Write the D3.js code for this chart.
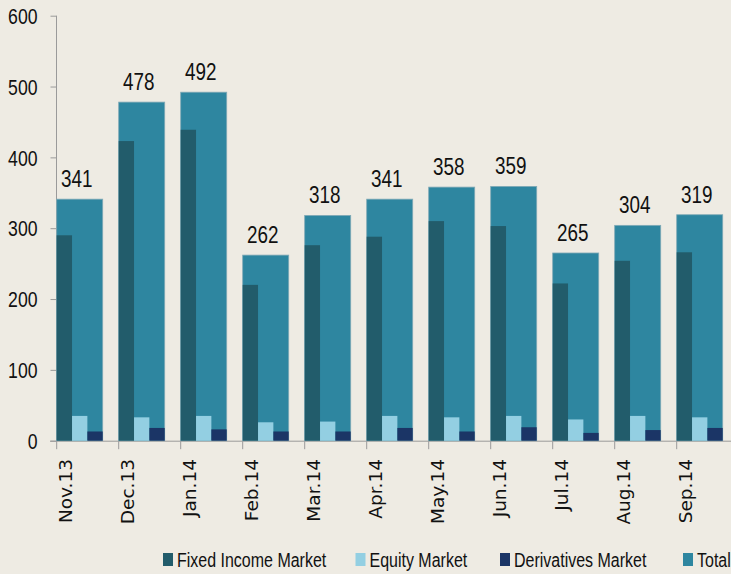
<!DOCTYPE html>
<html>
<head>
<meta charset="utf-8">
<script src="https://cdn.jsdelivr.net/npm/d3@7"></script>
<style>
  html, body { margin: 0; padding: 0; background: #EEEBE3; }
  svg { display: block; }
</style>
</head>
<body>
<svg id="chart" width="731" height="574"></svg>
<script>
const categories = ["Nov.13","Dec.13","Jan.14","Feb.14","Mar.14","Apr.14","May.14","Jun.14","Jul.14","Aug.14","Sep.14"];
const fixedIncome = [290, 423, 439, 220, 276, 288, 310, 303, 222, 254, 266];
const equity      = [35, 33, 35, 26, 27, 35, 33, 35, 30, 35, 33];
const derivatives = [13, 18, 16, 13, 13, 18, 13, 19, 11, 15, 18];
const total       = [341, 478, 492, 262, 318, 341, 358, 359, 265, 304, 319];
const yTicks = [0, 100, 200, 300, 400, 500, 600];
const seriesNames = ["Fixed Income Market", "Equity Market", "Derivatives Market", "Total"];
const colors = { fixed: "#225C6B", equity: "#93CFE2", deriv: "#1B3566", total: "#2E86A0" };

const svg = d3.select("#chart");
const x = d3.scaleBand().domain(categories).range([56.7, 738.7]).paddingInner(0).paddingOuter(0);
const y = d3.scaleLinear().domain([0, 600]).range([440.7, 15.7]);
const barW = x.bandwidth() * 0.742;
const subW = barW / 3;

const numFont = "'Liberation Sans', Arial, sans-serif";
const squeeze = 0.82;

// Y axis
const yAxis = svg.append("g").attr("transform", "translate(56.5,0)")
  .call(d3.axisLeft(y).tickValues(yTicks).tickSize(6));
yAxis.select(".domain").attr("stroke", "#9a9a9a").attr("d", `M0,${y(600)}V${y(0)}`);
yAxis.selectAll(".tick line").attr("stroke", "#9a9a9a");
yAxis.selectAll(".tick text")
  .attr("x", null).attr("dy", "0.36em")
  .attr("transform", `translate(-19,0) scale(${squeeze},1)`)
  .attr("font-family", numFont).attr("font-size", 21.5).attr("fill", "#111");

// X axis
const xAxis = svg.append("g").attr("transform", `translate(0,${y(0) + 0.5})`);
xAxis.append("line").attr("x1", 50).attr("x2", 731).attr("stroke", "#9a9a9a");
xAxis.selectAll(".xt").data(categories.concat(["_end"])).join("line")
  .attr("x1", (d, i) => x.range()[0] + i * x.step()).attr("x2", (d, i) => x.range()[0] + i * x.step())
  .attr("y1", 0).attr("y2", 8).attr("stroke", "#9a9a9a");

const rows = categories.map((c, i) => ({ c, f: fixedIncome[i], e: equity[i], d: derivatives[i], t: total[i] }));

// Total bars
svg.append("g").selectAll("rect").data(rows).join("rect")
  .attr("x", d => x(d.c)).attr("width", barW)
  .attr("y", d => y(d.t)).attr("height", d => y(0) - y(d.t))
  .attr("fill", colors.total).attr("stroke", "#7fa9b6").attr("stroke-width", 0.8);

// Sub bars
const subs = [["f", colors.fixed], ["e", colors.equity], ["d", colors.deriv]];
subs.forEach(([k, col], j) => {
  svg.append("g").selectAll("rect").data(rows).join("rect")
    .attr("x", d => x(d.c) + j * subW).attr("width", subW)
    .attr("y", d => y(d[k])).attr("height", d => y(0) - y(d[k]))
    .attr("fill", col);
});

// Value labels
svg.append("g").selectAll("text").data(rows).join("text")
  .attr("transform", d => `translate(${x(d.c) + barW / 2 - 3},${y(d.t) - 12}) scale(${squeeze},1)`)
  .attr("text-anchor", "middle")
  .attr("font-family", numFont).attr("font-size", 23).attr("fill", "#111")
  .text(d => d.t);

// X labels
svg.append("g").selectAll("text").data(categories).join("text")
  .attr("transform", d => `translate(${x(d) + 15.5},459) rotate(-90)`)
  .attr("text-anchor", "end")
  .attr("font-family", "'DejaVu Sans', sans-serif").attr("font-size", 18.5).attr("fill", "#111")
  .text(d => d);

// Legend
const legendX = [163, 355.5, 500, 683];
const legendCols = [colors.fixed, colors.equity, colors.deriv, colors.total];
const lg = svg.append("g");
seriesNames.forEach((n, i) => {
  lg.append("rect").attr("x", legendX[i]).attr("y", 553).attr("width", 10).attr("height", 13).attr("fill", legendCols[i]);
  lg.append("text").attr("transform", `translate(${legendX[i] + 14},567) scale(${squeeze},1)`)
    .attr("font-family", numFont).attr("font-size", 19.5).attr("fill", "#111").text(n);
});
</script>
</body>
</html>
